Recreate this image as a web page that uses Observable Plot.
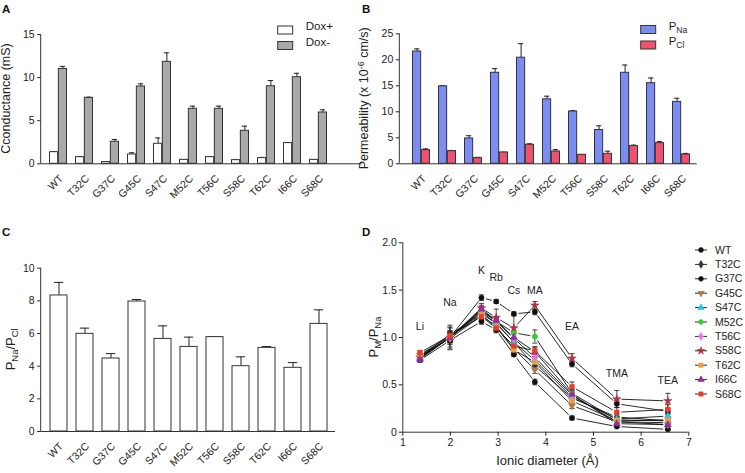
<!DOCTYPE html>
<html>
<head>
<meta charset="utf-8">
<script src="https://cdn.jsdelivr.net/npm/d3@7"></script>
<script src="https://cdn.jsdelivr.net/npm/@observablehq/plot@0.6"></script>
<style>
html,body{margin:0;padding:0;background:#fff;}
#root{position:relative;width:745px;height:473px;overflow:hidden;background:#fff;}
.panel{position:absolute;}
.panel svg{overflow:visible;display:block;}
#letters{position:absolute;left:0;top:0;pointer-events:none;}
</style>
</head>
<body>
<div id="root"></div>
<script>
const FONT = '"Liberation Sans", Arial, Helvetica, sans-serif';
const INK = "#222";

// ---------- data ----------
const mutants = ["WT","T32C","G37C","G45C","S47C","M52C","T56C","S58C","T62C","I66C","S68C"];

// Panel A: conductance (mS)
const doxPlus     = [1.35,0.77,0.20,1.08,2.32,0.46,0.77,0.42,0.66,2.40,0.46];
const doxPlusErr  = [0.05,0.05,0.03,0.20,0.68,0.03,0.08,0.08,0.08,0.07,0.03];
const doxMinus    = [11.0,7.65,2.55,8.97,11.83,6.38,6.38,3.83,9.00,10.05,5.95];
const doxMinusErr = [0.30,0.08,0.27,0.31,1.04,0.31,0.31,0.54,0.66,0.45,0.31];
const ticksA = [0,5,10,15];

// Panel B: permeability (x 10^-6 cm/s)
const pNa    = [21.6,14.9,4.87,17.5,20.4,12.4,10.06,6.5,17.5,15.5,11.9];
const pNaErr = [0.5,0.1,0.53,0.8,2.7,0.6,0.15,0.8,1.5,1.0,0.7];
const pCl    = [2.63,2.44,1.09,2.18,3.65,2.37,1.73,1.92,3.40,3.97,1.80];
const pClErr = [0.25,0.10,0.15,0.05,0.20,0.35,0.05,0.50,0.20,0.30,0.20];
const ticksB = [0,5,10,15,20,25];

// Panel C: PNa/PCl
const ratio    = [8.33,5.98,4.47,7.96,5.67,5.18,5.78,4.00,5.12,3.90,6.59];
const ratioErr = [0.80,0.35,0.30,0.12,0.80,0.60,0.03,0.57,0.08,0.32,0.86];
const ticksC = [0,2,4,6,8,10];

// Panel D: PM/PNa vs ionic diameter
const ions        = ["Li","Na","K","Rb","Cs","MA","EA","TMA","TEA"];
const ionDiameter = [1.36,1.99,2.65,2.96,3.33,3.77,4.55,5.49,6.56];
const ionLabelY   = [1.11,1.37,1.71,1.63,1.49,1.49,1.11,0.62,0.54];
const ticksDx = [1,2,3,4,5,6,7];
const ticksDy = [0,0.5,1.0,1.5,2.0];

const relWT   = [0.78,1.00,1.42,1.38,1.25,1.27,0.72,0.30,0.22];
const relT32C = [0.80,1.03,1.25,1.15,0.95,0.70,0.36,0.16,0.12];
const relG37C = [0.76,0.97,1.17,1.08,0.82,0.53,0.15,0.06,0.03];
const relG45C = [0.81,0.99,1.23,1.12,0.88,0.66,0.28,0.11,0.08];
const relS47C = [0.79,1.00,1.27,1.15,0.95,0.76,0.37,0.14,0.17];
const relM52C = [0.80,1.00,1.28,1.17,1.05,1.01,0.41,0.13,0.12];
const relT56C = [0.78,1.00,1.29,1.17,0.99,0.79,0.39,0.11,0.10];
const relS58C = [0.79,1.00,1.31,1.21,1.10,1.34,0.78,0.35,0.33];
const relT62C = [0.82,1.01,1.24,1.11,0.87,0.74,0.33,0.12,0.13];
const relI66C = [0.77,1.00,1.30,1.18,1.00,0.85,0.40,0.09,0.08];
const relS68C = [0.84,1.02,1.22,1.10,0.91,0.86,0.48,0.21,0.24];

const errWT   = [0.02,0.10,0.03,0.02,0.02,0.03,0.03,0.04,0.03];
const errT32C = [0.02,0.08,0.04,0.05,0.05,0.04,0.04,0.03,0.03];
const errG37C = [0.02,0.09,0.03,0.03,0.02,0.03,0.02,0.01,0.01];
const errG45C = [0.02,0.06,0.04,0.04,0.04,0.04,0.03,0.02,0.02];
const errS47C = [0.02,0.05,0.05,0.04,0.05,0.04,0.04,0.03,0.03];
const errM52C = [0.02,0.07,0.04,0.05,0.06,0.07,0.04,0.03,0.02];
const errT56C = [0.02,0.04,0.03,0.04,0.04,0.04,0.03,0.02,0.02];
const errS58C = [0.02,0.13,0.05,0.09,0.13,0.04,0.05,0.09,0.08];
const errT62C = [0.02,0.06,0.04,0.04,0.04,0.04,0.03,0.02,0.02];
const errI66C = [0.02,0.05,0.04,0.04,0.05,0.05,0.04,0.02,0.02];
const errS68C = [0.02,0.04,0.04,0.04,0.05,0.04,0.05,0.05,0.05];

const seriesColors = ["#111111","#333333","#111111","#a87c50","#22c6e0","#33cc33","#ee6fee","#b03040","#f0a040","#962e96","#f03a24"];

// ---------- helpers ----------
const triangleDown = {draw(ctx, size) {
  const y = -Math.sqrt(size / (Math.sqrt(3) * 3)), s3 = Math.sqrt(3);
  ctx.moveTo(0, -y * 2); ctx.lineTo(-s3 * y, y); ctx.lineTo(s3 * y, y); ctx.closePath();
}};
const capSymbol = {draw(ctx, size) {
  const r = Math.sqrt(size / Math.PI);
  ctx.moveTo(-r, 0); ctx.lineTo(r, 0);
}};
const seriesSymbols = [d3.symbolCircle, d3.symbolDiamond, d3.symbolCircle, triangleDown, d3.symbolTriangle,
  d3.symbolCircle, d3.symbolDiamond, d3.symbolStar, d3.symbolSquare, d3.symbolTriangle, d3.symbolSquare];

const root = d3.select("#root");
function place(node, left, top) {
  root.append("div").attr("class", "panel").style("left", left + "px").style("top", top + "px").node().appendChild(node);
  return d3.select(node);
}
function rotLabel(svg, x, y, parts, size) {
  const t = svg.append("text")
    .attr("transform", `translate(${x},${y}) rotate(-90)`)
    .attr("text-anchor", "middle").attr("font-family", FONT).attr("font-size", size)
    .attr("fill", INK).attr("dy", "0.35em");
  parts.forEach(p => t.append("tspan").text(p.t).attr("dy", p.dy || 0).attr("font-size", p.s || size));
}
function styleOf() {
  return {fontFamily: FONT, fontSize: "10.5px", color: INK, background: "transparent", overflow: "visible"};
}

function barPanel(cfg) {
  const {cats, groups, width, height, mL, mR, mT, mB, xRange, yDomain, yTicks} = cfg;
  const marks = [];
  for (const g of groups) {
    const data = cats.map((c, i) => ({c, v: g.values[i], e: g.errors[i]}));
    marks.push(Plot.ruleX(data, {x: "c", y1: "v", y2: d => d.v + d.e, dx: g.dx, stroke: INK, strokeWidth: 1}));
    marks.push(Plot.tickY(data, {x: "c", y: d => d.v + d.e, insetLeft: g.capL, insetRight: g.capR, stroke: INK, strokeWidth: 1}));
    marks.push(Plot.barY(data, {x: "c", y: "v", insetLeft: g.inL, insetRight: g.inR, fill: g.fill, stroke: "#333", strokeWidth: 1}));
  }
  marks.push(Plot.ruleY([0], {stroke: "#333", strokeWidth: 1}));
  marks.push(Plot.axisY({ticks: yTicks, tickSize: 3.5, tickPadding: 3, fontSize: 10.5, label: null}));
  marks.push(Plot.axisX({tickRotate: -45, tickSize: 0, tickPadding: 13, dx: 3, fontSize: 10.5, label: null}));
  const plot = Plot.plot({
    width, height, marginLeft: mL, marginRight: mR, marginTop: mT, marginBottom: mB,
    x: {type: "band", domain: cats, range: xRange, padding: 0},
    y: {domain: yDomain},
    style: styleOf(),
    marks
  });
  return plot;
}
function yAxisLine(svg, x, plot) {
  const r = plot.scale("y").range;
  svg.append("line").attr("x1", x).attr("x2", x).attr("y1", r[0]).attr("y2", r[1])
    .attr("stroke", "#333").attr("stroke-width", 1);
}
function boxLegend(svg, x, y0, step, items) {
  items.forEach((it, i) => {
    const y = y0 + i * step;
    svg.append("rect").attr("x", x).attr("y", y).attr("width", 15).attr("height", 8)
      .attr("fill", it.fill).attr("stroke", "#333").attr("stroke-width", 1);
    const t = svg.append("text").attr("x", x + 28).attr("y", y + 4).attr("dy", "0.35em")
      .attr("text-anchor", "start")
      .attr("font-family", FONT).attr("font-size", 11.5).attr("fill", INK);
    it.parts.forEach(p => t.append("tspan").text(p.t).attr("dy", p.dy || 0).attr("font-size", p.s || 11.5));
  });
}

// ---------- Panel A ----------
{
  const plot = barPanel({
    cats: mutants, width: 370, height: 230, mL: 40.7, mR: 8.3, mT: 34, mB: 66.7,
    xRange: [40.7, 334.4], yDomain: [0, 15], yTicks: ticksA,
    groups: [
      {values: doxPlus, errors: doxPlusErr, fill: "#ffffff", inL: 4.5, inR: 13.35, dx: -4.4, capL: 5.95, capR: 14.75},
      {values: doxMinus, errors: doxMinusErr, fill: "#a9a9a9", inL: 13.35, inR: 4.5, dx: 4.4, capL: 14.75, capR: 5.95}
    ]
  });
  const svg = place(plot, 0, 0);
  yAxisLine(svg, 40.7, plot);
  rotLabel(svg, 9.5, 98.5, [{t: "Cconductance (mS)"}], 12.5);
  boxLegend(svg, 277.7, 26, 15.5, [
    {fill: "#ffffff", parts: [{t: "Dox+"}]},
    {fill: "#a9a9a9", parts: [{t: "Dox-"}]}
  ]);
}

// ---------- Panel B ----------
{
  const plot = barPanel({
    cats: mutants, width: 390, height: 230, mL: 44.3, mR: 48.3, mT: 33.3, mB: 66.7,
    xRange: [49.5, 343.2], yDomain: [0, 25], yTicks: ticksB,
    groups: [
      {values: pNa, errors: pNaErr, fill: "#7b8cf2", inL: 4.5, inR: 13.35, dx: -4.4, capL: 5.95, capR: 14.75},
      {values: pCl, errors: pClErr, fill: "#f2506f", inL: 13.35, inR: 4.5, dx: 4.4, capL: 14.75, capR: 5.95}
    ]
  });
  const svg = place(plot, 355, 0);
  yAxisLine(svg, 44.3, plot);
  rotLabel(svg, 12.5, 98.3, [{t: "Permeability (x 10"}, {t: "-6", dy: -4, s: 9}, {t: " cm/s)", dy: 4}], 12.5);
  boxLegend(svg, 285.7, 25.5, 15.5, [
    {fill: "#7b8cf2", parts: [{t: "P"}, {t: "Na", dy: 3, s: 8.5}]},
    {fill: "#f2506f", parts: [{t: "P"}, {t: "Cl", dy: 3, s: 8.5}]}
  ]);
}

// ---------- Panel C ----------
{
  const plot = barPanel({
    cats: mutants, width: 370, height: 243, mL: 40.7, mR: 35, mT: 37.7, mB: 42,
    xRange: [40.7, 334.4], yDomain: [0, 10], yTicks: ticksC,
    groups: [
      {values: ratio, errors: ratioErr, fill: "#ffffff", inL: 5, inR: 4, dx: 0.5, capL: 8.85, capR: 7.85}
    ]
  });
  const svg = place(plot, 0, 230);
  yAxisLine(svg, 40.7, plot);
  rotLabel(svg, 15, 119.3, [{t: "P"}, {t: "Na", dy: 3, s: 9.5}, {t: "/P", dy: -3}, {t: "Cl", dy: 3, s: 9.5}], 13);
}

// ---------- Panel D ----------
{
  const relSeries = [relWT, relT32C, relG37C, relG45C, relS47C, relM52C, relT56C, relS58C, relT62C, relI66C, relS68C];
  const errSeries = [errWT, errT32C, errG37C, errG45C, errS47C, errM52C, errT56C, errS58C, errT62C, errI66C, errS68C];
  const rows = mutants.flatMap((s, si) => ions.map((ion, i) => ({s, si, ion, x: ionDiameter[i], y: relSeries[si][i], e: errSeries[si][i]})));
  const segs = mutants.flatMap((s, si) => ionDiameter.slice(1).map((x2, i) => ({
    x1: ionDiameter[i], y1: relSeries[si][i], x2, y2: relSeries[si][i + 1]
  })));
  const labels = ions.map((ion, i) => ({ion, x: ionDiameter[i], y: ionLabelY[i]}));
  const dotMarks = mutants.map((s, si) => Plot.dot(rows.filter(d => d.si === si), {
    x: "x", y: "y", symbol: seriesSymbols[si], r: 2.6, fill: seriesColors[si], stroke: seriesColors[si], strokeWidth: 0.6
  }));
  const plot = Plot.plot({
    width: 390, height: 243, marginLeft: 47.3, marginRight: 56.7, marginTop: 12.3, marginBottom: 41.3,
    x: {domain: [1, 7]}, y: {domain: [0, 2]},
    style: styleOf(),
    marks: [
      Plot.arrow(segs, {x1: "x1", y1: "y1", x2: "x2", y2: "y2", headLength: 0, inset: 5, stroke: "#111", strokeWidth: 0.9}),
      Plot.ruleX(rows, {x: "x", y1: d => d.y - d.e, y2: d => d.y + d.e, stroke: INK, strokeWidth: 0.8}),
      Plot.dot(rows, {x: "x", y: d => d.y + d.e, symbol: capSymbol, r: 2.6, fill: "none", stroke: INK, strokeWidth: 0.8}),
      Plot.dot(rows, {x: "x", y: d => d.y - d.e, symbol: capSymbol, r: 2.6, fill: "none", stroke: INK, strokeWidth: 0.8}),
      ...dotMarks,
      Plot.text(labels, {x: "x", y: "y", text: "ion", fontSize: 10.5, fill: INK}),
      Plot.ruleY([0], {stroke: "#333", strokeWidth: 1}),
      Plot.ruleX([1], {stroke: "#333", strokeWidth: 1}),
      Plot.axisX({ticks: ticksDx, tickSize: 4, tickPadding: 2, fontSize: 10.5, label: null, tickFormat: d3.format("d")}),
      Plot.axisY({ticks: ticksDy, tickSize: 3.5, tickPadding: 2.5, fontSize: 10.5, label: null,
        tickFormat: d => d === 0 ? "0" : d.toFixed(1)})
    ]
  });
  const svg = place(plot, 355, 230);
  rotLabel(svg, 23, 107, [{t: "P"}, {t: "M", dy: 3, s: 9.5}, {t: "/P", dy: -3}, {t: "Na", dy: 3, s: 9.5}], 13);
  svg.append("text").attr("x", 192.5).attr("y", 230).attr("dy", "0.35em").attr("text-anchor", "middle")
    .attr("font-family", FONT).attr("font-size", 13).attr("fill", INK).text("Ionic diameter (Å)");
  // legend
  const lg = svg.append("g");
  mutants.forEach((s, i) => {
    const y = 20 + i * 14.4;
    lg.append("line").attr("x1", 340).attr("x2", 352).attr("y1", y).attr("y2", y).attr("stroke", "#111").attr("stroke-width", 0.9);
    lg.append("path").attr("transform", `translate(346,${y})`).attr("d", d3.symbol(seriesSymbols[i], 2.4 * 2.4 * Math.PI)())
      .attr("fill", seriesColors[i]).attr("stroke", seriesColors[i]).attr("stroke-width", 0.6);
    lg.append("text").attr("x", 360).attr("y", y).attr("dy", "0.35em").attr("text-anchor", "start")
      .attr("font-family", FONT).attr("font-size", 10.5).attr("fill", INK).text(s);
  });
}

// ---------- panel letters ----------
const letters = root.append("svg").attr("id", "letters").attr("width", 745).attr("height", 473);
[["A", 2, 12.5], ["B", 362, 12.5], ["C", 2, 235.5], ["D", 362, 235.5]].forEach(([t, x, y]) =>
  letters.append("text").attr("x", x).attr("y", y).attr("font-family", FONT).attr("font-weight", "bold")
    .attr("text-anchor", "start").attr("font-size", 11.5).attr("fill", "#111").text(t));
</script>
</body>
</html>
